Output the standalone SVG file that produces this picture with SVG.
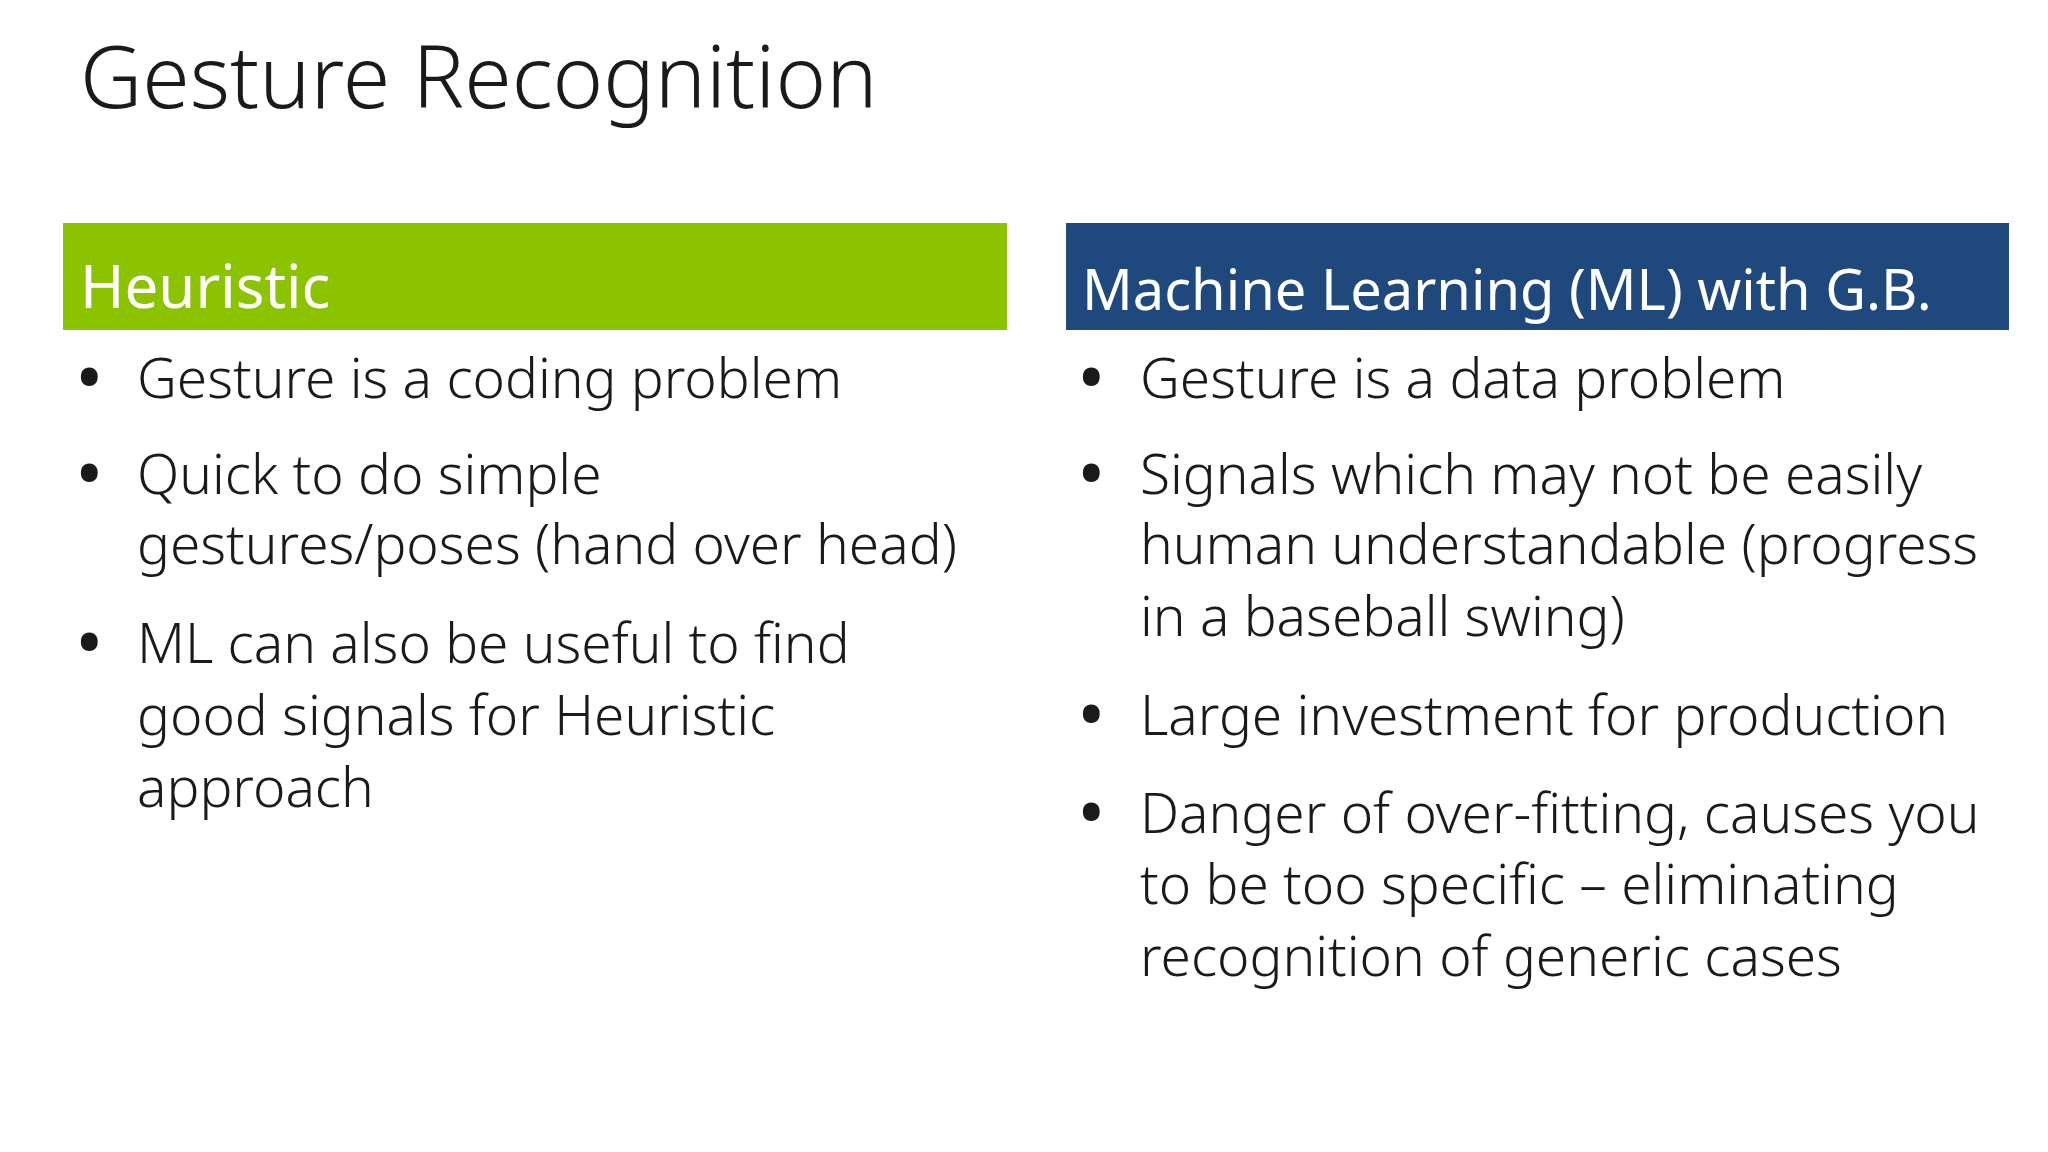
<svg xmlns="http://www.w3.org/2000/svg" width="2048" height="1152" viewBox="0 0 2048 1152">
<style>
text{font-family:"Noto Sans","Open Sans",sans-serif;fill:#1a1a1a}
.t{font-size:86px;font-weight:300}
.h{font-size:60px;fill:#fff}
.b{font-size:55px;font-weight:300}
.d{font-size:60px;font-weight:700}
</style>
<rect width="2048" height="1152" fill="#fff"/>
<text class="t" x="80" y="108">Gesture Recognition</text>
<g id="heuristic">
<rect x="63" y="223" width="944" height="107" fill="#8cc300"/>
<text class="h" x="80" y="308">Heuristic</text>
<text class="d" x="78" y="398">•</text><text class="b" x="137" y="398">Gesture is a coding problem</text>
<text class="d" x="78" y="494">•</text><text class="b" x="137" y="494">Quick to do simple</text>
<text class="b" x="137" y="564">gestures/poses (hand over head)</text>
<text class="d" x="78" y="663">•</text><text class="b" x="137" y="663">ML can also be useful to find</text>
<text class="b" x="137" y="735">good signals for Heuristic</text>
<text class="b" x="137" y="807">approach</text>
</g>
<g id="ml">
<rect x="1066" y="223" width="943" height="107" fill="#1f497d"/>
<text class="h" x="1082" y="310" style="font-size:56px">Machine Learning (ML) with G.B.</text>
<text class="d" x="1080" y="398">•</text><text class="b" x="1140" y="398">Gesture is a data problem</text>
<text class="d" x="1080" y="494">•</text><text class="b" x="1140" y="494">Signals which may not be easily</text>
<text class="b" x="1140" y="564">human understandable (progress</text>
<text class="b" x="1140" y="636">in a baseball swing)</text>
<text class="d" x="1080" y="735">•</text><text class="b" x="1140" y="735">Large investment for production</text>
<text class="d" x="1080" y="833">•</text><text class="b" x="1140" y="833">Danger of over-fitting, causes you</text>
<text class="b" x="1140" y="904">to be too specific – eliminating</text>
<text class="b" x="1140" y="976">recognition of generic cases</text>
</g>
</svg>
